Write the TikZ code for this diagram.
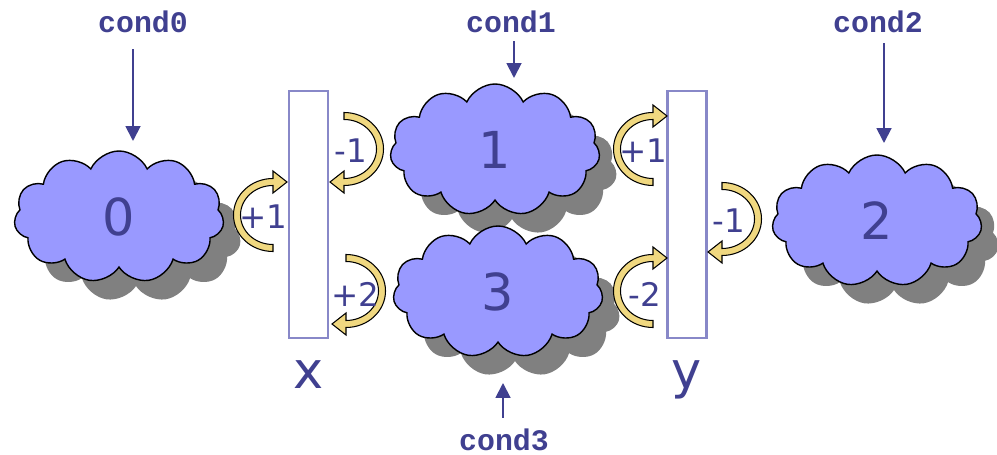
\documentclass[tikz,border=0pt]{standalone}
\usepackage{fontspec}
\setmainfont{DejaVu Sans}
\setmonofont{Liberation Mono}
\usetikzlibrary{
  arrows.meta,
  positioning,
  shapes.symbols,
  shadows
}
\definecolor{inkblue}{RGB}{64,64,144}
\definecolor{cloudblue}{RGB}{153,153,255}
\definecolor{regedge}{RGB}{136,136,200}
\definecolor{turnyellow}{RGB}{240,216,128}
\tikzset{
  statecloud/.style={cloud, cloud puffs=11, cloud puff arc=130,
    cloud ignores aspect, draw=black, line width=0.8pt, fill=cloudblue,
    minimum width=4.2cm, minimum height=2.64cm, inner sep=0pt,
    text=inkblue, font=\fontsize{29}{29}\selectfont,
    general shadow={fill=gray, shadow xshift=0.34cm, shadow yshift=-0.38cm}},
  regbox/.style={draw=regedge, line width=1.2pt, fill=white,
    minimum width=0.78cm, minimum height=4.94cm, inner sep=0pt},
  reglabel/.style={text=inkblue, font=\fontsize{29}{29}\selectfont,
    inner sep=0pt, anchor=base},
  condlabel/.style={text=inkblue, inner sep=0pt,
    font=\ttfamily\bfseries\fontsize{17}{17}\selectfont},
  condarrow/.style={draw=inkblue, line width=1.1pt,
    -{Triangle[length=8.5pt, width=8.5pt]}},
  turnlabel/.style={text=inkblue, inner sep=0pt,
    font=\fontsize{18.5}{18.5}\selectfont},
  turnarrow/.pic={
    \filldraw[fill=turnyellow, draw=black, line width=0.6pt]
      (0,36.5) arc[start angle=90, end angle=270, x radius=39.5, y radius=36.5]
      -- (0,-44) -- (14,-33) -- (0,-22) -- (0,-29.5)
      arc[start angle=270, end angle=90, x radius=32.5, y radius=29.5]
      -- cycle;
  }
}

\begin{document}
\begin{tikzpicture}[x=0.02cm, y=-0.02cm]
  \useasboundingbox (0,0) rectangle (997,455);

  % registers
  \node[regbox] (regx) at (308.5,214.5) {};
  \node[regbox] (regy) at (687,214.5) {};
  \node[reglabel] (xname) at ([yshift=-0.98cm]regx.south) {x};
  \node[reglabel] (yname) at ([yshift=-0.98cm]regy.south) {y};

  % states
  \node[statecloud] (cloud0) at (119,217) {0};
  \node[statecloud] (cloud1) at (495,150) {1};
  \node[statecloud] (cloud3) at (498,292) {3};
  \node[statecloud] (cloud2) at (877,221) {2};

  % updates on x
  \pic at (273,215) {turnarrow};
  \pic[rotate=180] at (344,149) {turnarrow};
  \pic[rotate=180] at (346,291) {turnarrow};
  \node[turnlabel] (incx0) at (263,217) {+1};
  \node[turnlabel] (decx1) at (351,151) {-1};
  \node[turnlabel] (incx3) at (355,294) {+2};

  % updates on y
  \pic at (653,149) {turnarrow};
  \pic[rotate=180] at (722,219) {turnarrow};
  \pic at (653,291) {turnarrow};
  \node[turnlabel] (incy1) at (643,151) {+1};
  \node[turnlabel] (decy2) at (729,221) {-1};
  \node[turnlabel] (decy3) at (645,294) {-2};

  % conditions
  \node[condlabel] (cond0) at (143,22) {cond0};
  \node[condlabel] (cond1) at (511,22) {cond1};
  \node[condlabel] (cond2) at (878,22) {cond2};
  \node[condlabel] (cond3) at (504,440) {cond3};
  \coordinate (hit0) at (133,141);
  \coordinate (hit1) at (514,78);
  \coordinate (hit2) at (884,143);
  \coordinate (hit3) at (503,383);
  \draw[condarrow, shorten <=0.32cm] (cond0.south -| hit0) -- (hit0);
  \draw[condarrow, shorten <=0.16cm] (cond1.south -| hit1) -- (hit1);
  \draw[condarrow, shorten <=0.2cm] (cond2.south -| hit2) -- (hit2);
  \draw[condarrow, shorten <=0.22cm] (cond3.north -| hit3) -- (hit3);
\end{tikzpicture}
\end{document}
